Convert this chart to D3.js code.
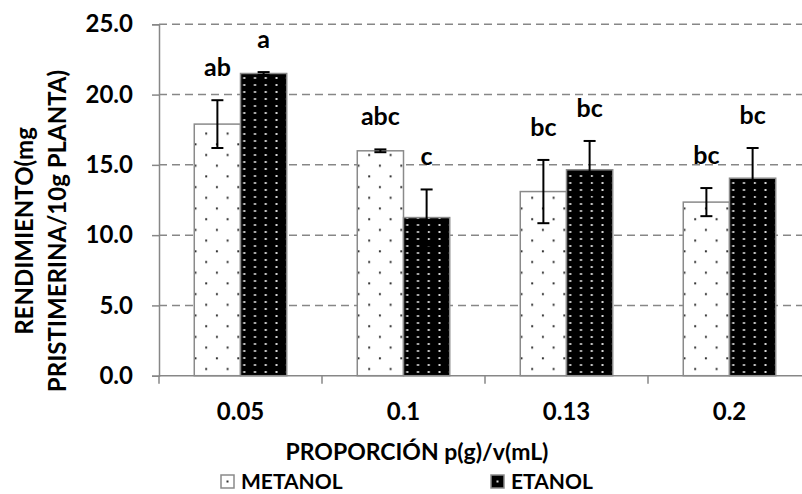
<!DOCTYPE html>
<html>
<head>
<meta charset="utf-8">
<script src="https://cdn.jsdelivr.net/npm/d3@7"></script>
<style>
  html, body { margin: 0; padding: 0; background: #fff; }
  svg { display: block; }
  text { font-family: Lato, "Open Sans", sans-serif; font-weight: bold; fill: #000; }
</style>
</head>
<body>
<svg id="chart" width="802" height="494"></svg>
<script>
// Extraction yield of pristimerin by solid/solvent ratio and solvent
const categories = ["0.05", "0.1", "0.13", "0.2"];
const seriesNames = ["METANOL", "ETANOL"];
const metanolMean = [17.9, 16.0, 13.1, 12.35];
const metanolErr  = [1.7, 0.1, 2.25, 1.0];
const etanolMean  = [21.5, 11.25, 14.65, 14.05];
const etanolErr   = [0.1, 2.0, 2.05, 2.15];
const metanolLetters = ["ab", "abc", "bc", "bc"];
const etanolLetters  = ["a", "c", "bc", "bc"];
const yTicks = [0, 5, 10, 15, 20, 25];

const rows = categories.map((c, i) => ({
  cat: c,
  bars: [
    { s: "METANOL", v: metanolMean[i], e: metanolErr[i], lbl: metanolLetters[i] },
    { s: "ETANOL",  v: etanolMean[i],  e: etanolErr[i],  lbl: etanolLetters[i] }
  ]
}));

const svg = d3.select("#chart");
const plotL = 159, plotR = 811, plotT = 24.3, plotB = 375.7;
const axisGrey = "#878787";

const x0 = d3.scaleBand().domain(categories).range([plotL, plotR]).padding(0);
const x1 = d3.scaleBand().domain(seriesNames).range([0, x0.bandwidth()])
  .paddingInner(0).paddingOuter(0.763);
const y = d3.scaleLinear().domain([0, 25]).range([plotB, plotT]);

// fill patterns
const defs = svg.append("defs");
const pm = defs.append("pattern").attr("id", "patMet").attr("patternUnits", "userSpaceOnUse")
  .attr("width", 21.4).attr("height", 21.4).attr("x", 196).attr("y", 251);
pm.append("rect").attr("width", 21.4).attr("height", 21.4).attr("fill", "#fff");
pm.append("rect").attr("x", 0).attr("y", 10).attr("width", 2).attr("height", 2).attr("fill", "#333");
pm.append("rect").attr("x", 10.7).attr("y", 20.7).attr("width", 2).attr("height", 2).attr("fill", "#333");
pm.append("rect").attr("x", 10.7).attr("y", -0.7).attr("width", 2).attr("height", 2).attr("fill", "#333");

const pe = defs.append("pattern").attr("id", "patEt").attr("patternUnits", "userSpaceOnUse")
  .attr("width", 10.75).attr("height", 7).attr("x", 244).attr("y", 250);
pe.append("rect").attr("width", 10.75).attr("height", 7).attr("fill", "#000");
pe.append("rect").attr("x", 1.5).attr("y", 2).attr("width", 2).attr("height", 2).attr("fill", "#d8d8d8");

const fills = { METANOL: "url(#patMet)", ETANOL: "url(#patEt)" };

// dashed gridlines
svg.append("g").selectAll("line").data(yTicks.filter(t => t > 0)).join("line")
  .attr("x1", plotL).attr("x2", 802)
  .attr("y1", d => y(d)).attr("y2", d => y(d))
  .attr("stroke", axisGrey).attr("stroke-width", 1.5)
  .attr("stroke-dasharray", "8,5");

// y axis
const yAxis = svg.append("g").attr("transform", `translate(${plotL},0)`)
  .call(d3.axisLeft(y).tickValues(yTicks).tickFormat(d3.format(".1f"))
    .tickSize(7).tickPadding(19));
yAxis.select(".domain").attr("stroke", axisGrey).attr("stroke-width", 1.5);
yAxis.selectAll(".tick line").attr("stroke", axisGrey).attr("stroke-width", 1.5);
yAxis.selectAll(".tick text").attr("font-size", 24).attr("fill", "#000")
  .attr("font-family", "Lato, sans-serif").attr("font-weight", "bold");

// x axis: baseline, boundary ticks, category labels
svg.append("line").attr("x1", plotL).attr("x2", 802).attr("y1", plotB).attr("y2", plotB)
  .attr("stroke", axisGrey).attr("stroke-width", 1.5);
const bounds = categories.map(c => x0(c));
svg.append("g").selectAll("line").data(bounds).join("line")
  .attr("x1", d => d).attr("x2", d => d).attr("y1", plotB).attr("y2", plotB + 8)
  .attr("stroke", axisGrey).attr("stroke-width", 1.5);
svg.append("g").selectAll("text").data(categories).join("text")
  .attr("x", d => x0(d) + x0.bandwidth() / 2).attr("y", 420)
  .attr("text-anchor", "middle").attr("font-size", 24).text(d => d);

// bars
const groups = svg.append("g").selectAll("g").data(rows).join("g")
  .attr("transform", d => `translate(${x0(d.cat)},0)`);
groups.selectAll("rect").data(d => d.bars).join("rect")
  .attr("x", d => x1(d.s)).attr("width", x1.bandwidth())
  .attr("y", d => y(d.v)).attr("height", d => y(0) - y(d.v))
  .attr("fill", d => fills[d.s]).attr("stroke", "#8a8a8a").attr("stroke-width", 1.5);

// error bars
const eb = groups.selectAll("g.err").data(d => d.bars).join("g").attr("class", "err");
const cx = d => x1(d.s) + x1.bandwidth() / 2;
eb.append("line").attr("x1", cx).attr("x2", cx)
  .attr("y1", d => y(d.v + d.e)).attr("y2", d => y(d.v - d.e));
eb.append("line").attr("x1", d => cx(d) - 6).attr("x2", d => cx(d) + 6)
  .attr("y1", d => y(d.v + d.e)).attr("y2", d => y(d.v + d.e));
eb.append("line").attr("x1", d => cx(d) - 6).attr("x2", d => cx(d) + 6)
  .attr("y1", d => y(d.v - d.e)).attr("y2", d => y(d.v - d.e));
eb.selectAll("line").attr("stroke", "#000").attr("stroke-width", 2);

// significance letters above each error bar
groups.selectAll("text.sig").data(d => d.bars).join("text").attr("class", "sig")
  .attr("x", cx)
  .attr("y", d => y(d.v + d.e) - 24)
  .attr("text-anchor", "middle").attr("font-size", 25).text(d => d.lbl);

// axis titles
svg.append("text").attr("x", 417).attr("y", 460).attr("text-anchor", "middle")
  .attr("font-size", 23).text("PROPORCIÓN p(g)/v(mL)");
const yt = svg.append("text").attr("transform", "translate(33,231) rotate(-90)")
  .attr("text-anchor", "middle").attr("font-size", 24);
yt.append("tspan").attr("x", 0).attr("dy", 0).text("RENDIMIENTO(mg");
yt.append("tspan").attr("x", 0).attr("dy", 33).text("PRISTIMERINA/10g PLANTA)");

// legend
const legendX = { METANOL: 221, ETANOL: 491 };
const lg = svg.append("g").selectAll("g").data(seriesNames).join("g")
  .attr("transform", d => `translate(${legendX[d]},475)`);
lg.append("rect").attr("width", 13).attr("height", 13)
  .attr("fill", d => d === "METANOL" ? "#fff" : "#000")
  .attr("stroke", "#8a8a8a").attr("stroke-width", 1.5);
lg.append("rect").attr("x", 5.5).attr("y", 5.5).attr("width", 2).attr("height", 2)
  .attr("fill", d => d === "METANOL" ? "#333" : "#ddd");
lg.append("text").attr("x", 20).attr("y", 14).attr("font-size", 21).text(d => d);
</script>
</body>
</html>
